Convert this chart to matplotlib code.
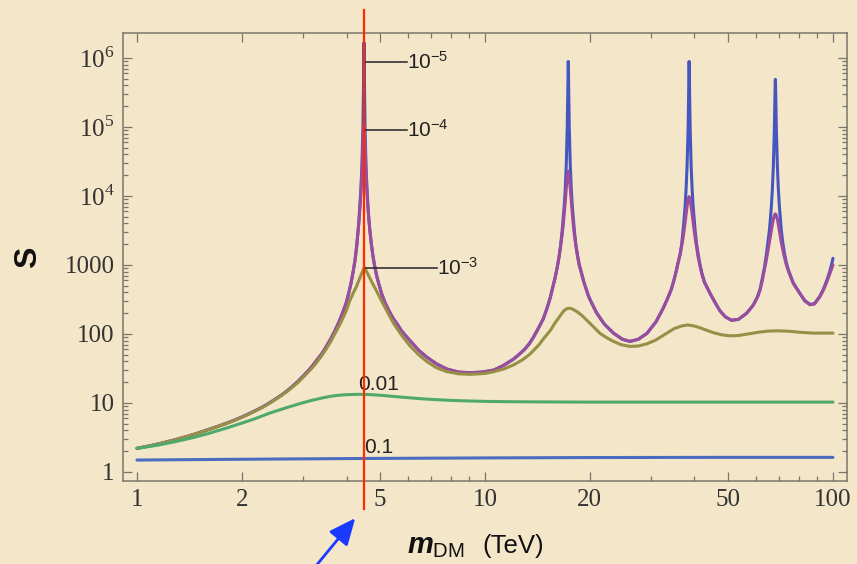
import matplotlib.pyplot as plt
from matplotlib.patches import FancyArrowPatch
from matplotlib.transforms import offset_copy

plt.rcParams['mathtext.fontset'] = 'custom'
plt.rcParams['mathtext.rm'] = 'Liberation Serif'
plt.rcParams['mathtext.it'] = 'Liberation Sans:italic:bold'
plt.rcParams['mathtext.sf'] = 'Liberation Sans'
plt.rcParams['mathtext.bf'] = 'Liberation Sans:bold'

# Sommerfeld factor S vs dark matter mass (TeV), one curve per relative velocity
mass_v1e5 = [1.0, 1.1, 1.2, 1.3, 1.4, 1.5, 1.6, 1.7, 1.8, 1.9,
             2.0, 2.1, 2.2, 2.3, 2.4, 2.5, 2.6, 2.7, 2.8, 2.9,
             3.0, 3.1, 3.2, 3.3, 3.4, 3.5, 3.6, 3.7, 3.8, 3.88,
             3.99, 4.06, 4.12, 4.18, 4.23, 4.28, 4.31, 4.34, 4.37, 4.40,
             4.43, 4.46, 4.475, 4.4825, 4.49, 4.4975, 4.505, 4.52, 4.55, 4.58,
             4.61, 4.64, 4.67, 4.71, 4.76, 4.82, 4.89, 4.97, 5.05, 5.16,
             5.29, 5.44, 5.6, 5.75, 5.92, 6.09, 6.45, 6.81, 7.25, 7.78,
             8.40, 9.06, 9.80, 10.6, 11.3, 12.06, 12.5, 13.0, 13.4, 13.75,
             14.2, 14.7, 15.05, 15.4, 15.91, 16.15, 16.34, 16.5, 16.67, 16.78,
             16.89, 17.01, 17.12, 17.236, 17.293, 17.321, 17.35, 17.379, 17.407, 17.465,
             17.58, 17.70, 17.82, 17.94, 18.06, 18.24, 18.42, 18.65, 18.91, 19.2,
             19.55, 19.85, 20.2, 20.9, 22.0, 23.4, 24.8, 26.1, 27.6, 29.2,
             31.0, 32.5, 33.5, 34.29, 34.85, 35.43, 35.9, 36.37, 36.75, 37.10,
             37.35, 37.59, 37.84, 38.09, 38.35, 38.473, 38.536, 38.6, 38.664, 38.728,
             38.86, 39.11, 39.37, 39.63, 39.9, 40.16, 40.55, 40.97, 41.5, 42.06,
             42.7, 43.46, 44.3, 45.5, 47.3, 49.0, 51.1, 53.5, 56.5, 59.0,
             60.66, 61.7, 62.69, 63.5, 64.35, 65.2, 65.64, 66.08, 66.52, 66.96,
             67.40, 67.85, 68.075, 68.187, 68.3, 68.413, 68.526, 68.75, 69.21, 69.67,
             70.13, 70.6, 71.06, 71.75, 72.49, 73.4, 74.42, 76.9, 80.3, 83.0,
             85.9, 88.5, 91.7, 94.0, 95.9, 97.7, 99.1, 100.0]
s_v1e5 = [2.2, 2.42, 2.68, 2.97, 3.3, 3.68, 4.1, 4.55, 5.05, 5.6,
          6.25, 7.0, 7.85, 8.8, 10.0, 11.4, 13.0, 15.0, 17.5, 20.5,
          24.5, 29, 35, 43, 52, 66, 84, 110, 147, 190,
          280, 390, 540, 800, 1150, 1900, 2800, 4150, 7150, 12700,
          28000, 107000, 360000, 870000, 1670000, 870000, 360000, 107000, 28000, 12700,
          7150, 4500, 3150, 2100, 1400, 960, 680, 500, 380, 285,
          220, 170, 138, 112, 94, 80, 58, 46, 37, 31,
          28, 27.5, 28, 30, 35, 43, 50, 60, 72, 88,
          118, 165, 230, 335, 660, 960, 1360, 1950, 3200, 4700,
          7150, 12700, 28000, 100000, 300000, 600000, 890000, 600000, 300000, 100000,
          28000, 12700, 7150, 4700, 3200, 2000, 1450, 1020, 790, 585,
          440, 350, 290, 205, 140, 103, 84, 78, 84, 102,
          150, 235, 330, 440, 585, 810, 1100, 1450, 2000, 3200,
          4700, 7150, 12700, 28000, 100000, 300000, 600000, 890000, 600000, 300000,
          100000, 28000, 12700, 7150, 4700, 3200, 2000, 1450, 1000, 740,
          570, 475, 392, 305, 218, 178, 158, 163, 200, 262,
          345, 440, 660, 900, 1410, 2400, 3150, 4600, 7100, 12500,
          27200, 93000, 240000, 387000, 490000, 387000, 240000, 93000, 27200, 12500,
          7100, 4600, 3150, 2100, 1500, 1100, 850, 550, 390, 305,
          268, 276, 352, 455, 590, 780, 1020, 1250]

mass_v1e4 = [1.0, 1.1, 1.2, 1.3, 1.4, 1.5, 1.6, 1.7, 1.8, 1.9,
             2.0, 2.1, 2.2, 2.3, 2.4, 2.5, 2.6, 2.7, 2.8, 2.9,
             3.0, 3.1, 3.2, 3.3, 3.4, 3.5, 3.6, 3.7, 3.8, 3.88,
             3.99, 4.06, 4.12, 4.18, 4.23, 4.28, 4.31, 4.34, 4.37, 4.40,
             4.43, 4.46, 4.475, 4.49, 4.505, 4.52, 4.55, 4.58, 4.61, 4.64,
             4.67, 4.71, 4.76, 4.82, 4.89, 4.97, 5.05, 5.16, 5.29, 5.44,
             5.6, 5.75, 5.92, 6.09, 6.45, 6.81, 7.25, 7.78, 8.40, 9.06,
             9.80, 10.6, 11.3, 12.06, 12.5, 13.0, 13.4, 13.75, 14.2, 14.7,
             15.05, 15.4, 15.91, 16.15, 16.34, 16.5, 16.67, 16.78, 16.89, 17.01,
             17.12, 17.236, 17.35, 17.465, 17.58, 17.70, 17.82, 17.94, 18.06, 18.24,
             18.42, 18.65, 18.91, 19.2, 19.55, 19.85, 20.2, 20.9, 22.0, 23.4,
             24.8, 26.1, 27.6, 29.2, 31.0, 32.5, 33.5, 34.29, 34.85, 35.43,
             35.9, 36.37, 36.75, 37.10, 37.35, 37.59, 37.84, 38.09, 38.35, 38.6,
             38.86, 39.11, 39.37, 39.63, 39.9, 40.16, 40.55, 40.97, 41.5, 42.06,
             42.7, 43.46, 44.3, 45.5, 47.3, 49.0, 51.1, 53.5, 56.5, 59.0,
             60.66, 61.7, 62.69, 63.5, 64.35, 65.2, 65.64, 66.08, 66.52, 66.96,
             67.40, 67.85, 68.3, 68.75, 69.21, 69.67, 70.13, 70.6, 71.06, 71.75,
             72.49, 73.4, 74.42, 76.9, 80.3, 83.0, 85.9, 88.5, 91.7, 94.0,
             95.9, 97.7, 99.1, 100.0]
s_v1e4 = [2.2, 2.42, 2.68, 2.97, 3.3, 3.68, 4.1, 4.55, 5.05, 5.6,
          6.25, 7.0, 7.85, 8.8, 10.0, 11.4, 13.0, 15.0, 17.5, 20.5,
          24.5, 29, 35, 43, 52, 66, 84, 110, 147, 190,
          280, 390, 540, 800, 1150, 1900, 2800, 4100, 6500, 11000,
          23000, 56000, 89000, 110000, 89000, 56000, 23000, 11500, 6700, 4400,
          3100, 2100, 1400, 960, 680, 500, 380, 285, 220, 170,
          138, 112, 94, 80, 58, 46, 37, 31, 28, 27.5,
          28, 30, 35, 43, 50, 60, 72, 88, 118, 165,
          230, 335, 660, 950, 1340, 1900, 2800, 3800, 5500, 8200,
          12800, 19000, 23000, 19000, 12800, 8200, 5500, 3800, 2800, 1900,
          1400, 1000, 780, 580, 440, 350, 290, 205, 140, 103,
          84, 78, 84, 102, 150, 235, 330, 440, 580, 800,
          1080, 1400, 1900, 2500, 3200, 4150, 5500, 7100, 8950, 9800,
          8950, 7100, 5500, 4150, 3200, 2500, 1800, 1300, 960, 720,
          560, 470, 390, 305, 218, 178, 158, 163, 200, 262,
          340, 430, 600, 850, 1180, 1750, 2100, 2600, 3130, 3850,
          4600, 5250, 5500, 5250, 4600, 3850, 3130, 2600, 2100, 1650,
          1300, 1020, 820, 540, 385, 300, 265, 272, 347, 440,
          560, 720, 880, 1000]

mass_v1e3 = [1.0, 1.1, 1.2, 1.3, 1.4, 1.5, 1.6, 1.7, 1.8, 1.9,
             2.0, 2.1, 2.2, 2.3, 2.4, 2.5, 2.6, 2.7, 2.8, 2.9,
             3.0, 3.1, 3.2, 3.3, 3.4, 3.5, 3.6, 3.7, 3.8, 3.88,
             3.99, 4.09, 4.19, 4.27, 4.38, 4.50, 4.62, 4.74, 4.87, 5.03,
             5.20, 5.45, 5.75, 6.09, 6.45, 6.80, 7.25, 7.76, 8.40, 9.06,
             10.0, 10.6, 11.3, 12.06, 12.8, 13.4, 13.8, 14.3, 14.8, 15.4,
             15.9, 16.4, 16.8, 17.15, 17.5, 17.9, 18.4, 19.0, 19.7, 20.5,
             21.4, 22.4, 23.4, 24.6, 26.1, 27.6, 29.2, 31.0, 33.0, 35.0,
             36.8, 38.2, 39.8, 41.5, 43.4, 45.5, 48.0, 50.6, 53.5, 57.0,
             61.0, 65.0, 69.0, 74.0, 80.0, 87.7, 100.0]
s_v1e3 = [2.2, 2.42, 2.68, 2.97, 3.3, 3.67, 4.08, 4.52, 5.0, 5.55,
          6.2, 6.9, 7.75, 8.7, 9.85, 11.2, 12.8, 14.7, 17.0, 19.8,
          23.5, 27.8, 33, 40, 49, 61, 77, 100, 128, 158,
          215, 305, 400, 485, 670, 930, 718, 553, 428, 310,
          225, 145, 97, 67, 50, 40, 32.5, 28.5, 26.5, 26,
          26.8, 28.4, 31, 35.5, 42, 50, 58, 70, 88, 112,
          145, 180, 213, 232, 237, 228, 210, 185, 155, 127,
          102, 88, 78, 70, 66, 67, 72, 82, 100, 120,
          131, 135, 131, 123, 113, 104, 97, 94, 95, 100,
          106, 110, 111, 110, 106, 103, 103]

mass_v1e2 = [1.0, 1.15, 1.3, 1.45, 1.6, 1.8, 2.0, 2.2, 2.4, 2.6, 2.8, 3.0,
             3.2, 3.4, 3.6, 3.8, 4.0, 4.3, 4.6, 5.0, 5.5, 6.0, 6.6, 7.2,
             8.0, 9.0, 10.0, 11.5, 13.0, 16.0, 20.0, 30.0, 50.0, 100.0]
s_v1e2 = [2.2, 2.45, 2.78, 3.15, 3.6, 4.3, 5.1, 6.0, 7.1, 8.1, 9.1, 10.1,
          11.0, 11.8, 12.5, 12.95, 13.2, 13.35, 13.3, 12.95, 12.4, 11.95, 11.5, 11.2,
          10.9, 10.7, 10.55, 10.45, 10.4, 10.35, 10.3, 10.3, 10.3, 10.3]

mass_v1e1 = [1.0, 2.0, 4.5, 10.0, 20.0, 50.0, 100.0]
s_v1e1 = [1.49, 1.53, 1.57, 1.60, 1.62, 1.63, 1.63]

x_ticks = [1, 2, 5, 10, 20, 50, 100]
x_tick_labels = ["1", "2", "5", "10", "20", "50", "100"]
x_minor = [3, 4, 6, 7, 8, 9, 30, 40, 60, 70, 80, 90]
y_ticks = [1, 10, 100, 1000, 1e4, 1e5, 1e6]
y_tick_labels = ["1", "10", "100", "1000", r"$10^{4}$", r"$10^{5}$", r"$10^{6}$"]
y_minor = [k * 10 ** e for e in range(6) for k in range(2, 10)]

m_marked = 4.48  # TeV, highlighted mass

bg = '#f4e6c9'
frame = '#7a766c'

fig = plt.figure(figsize=(8.57, 5.64), dpi=100, facecolor=bg)
ax = fig.add_axes([0.1435, 0.1472, 0.8448, 0.7943])
ax.set_facecolor('none')
ax.set_xscale('log')
ax.set_yscale('log')
ax.set_xlim(0.9115, 109.7)
ax.set_ylim(0.741, 2.30e6)

# drawing order: smallest velocity first, so the larger ones sit on top
curves = [
    (mass_v1e5, s_v1e5, '#4656c0'),
    (mass_v1e4, s_v1e4, '#9b4c9d'),
    (mass_v1e3, s_v1e3, '#978f45'),
    (mass_v1e2, s_v1e2, '#4fa96c'),
    (mass_v1e1, s_v1e1, '#4a6bbf'),
]
for m, s, c in curves:
    ax.plot(m, s, color=c, lw=2.2, solid_capstyle='round', zorder=2)

# velocity labels with leader lines
text_kw = dict(fontsize=15, color='#222222', ha='left', va='baseline')
shift = offset_copy(ax.transData, fig=fig, x=0, y=-7, units='dots')
for y_line, x_text, label in [(8.84e5, 5.96, r"$\mathsf{10^{-5}}$"),
                              (9.05e4, 5.95, r"$\mathsf{10^{-4}}$"),
                              (914, 7.28, r"$\mathsf{10^{-3}}$")]:
    ax.plot([4.50, x_text], [y_line, y_line], color='#222222', lw=1.1, zorder=3)
    ax.text(x_text, y_line, label, transform=shift, **text_kw)
ax.text(4.32, 15.4, "0.01", family='Liberation Sans', **text_kw)
ax.text(4.50, 1.87, "0.1", family='Liberation Sans', **text_kw)

# marked mass, running past the frame
ax.plot([m_marked, m_marked], [0.291, 4.96e6], color='#ff2a00', lw=1.6,
        clip_on=False, zorder=6)

ax.set_xticks(x_ticks)
ax.set_xticklabels(x_tick_labels, family='Liberation Serif', fontsize=18, color='#333333')
ax.set_xticks(x_minor, minor=True)
ax.set_xticklabels([], minor=True)
ax.set_yticks(y_ticks)
ax.set_yticklabels(y_tick_labels, family='Liberation Serif', fontsize=18, color='#333333')
ax.set_yticks(y_minor, minor=True)
ax.set_yticklabels([], minor=True)

ax.tick_params(which='both', direction='in', top=True, right=True, color=frame, width=0.9)
ax.tick_params(which='major', length=6.5, pad=6)
ax.tick_params(which='minor', length=3.3)
for sp in ax.spines.values():
    sp.set_color(frame)
    sp.set_linewidth(1.1)

fig.text(0.033, 0.543, "S", rotation=90, fontsize=23, fontweight='bold',
         family='Liberation Sans', ha='center', va='center', color='#111111')
fig.text(407 / 857, 1 - 553 / 564, r"$\mathit{m}_{\mathsf{DM}}$", fontsize=21,
         ha='left', va='baseline', color='#111111')
fig.text(482 / 857, 1 - 553 / 564, "(TeV)", fontsize=18.5, family='Liberation Sans',
         ha='left', va='baseline', color='#111111')

arrow = FancyArrowPatch((311 / 857, -0.014), (357 / 857, 1 - 516 / 564),
                        transform=fig.transFigure,
                        arrowstyle='-|>,head_length=0.9,head_width=0.4',
                        mutation_scale=18, lw=2, color='#1a3aff')
fig.add_artist(arrow)

fig.savefig('out.png', dpi=100, facecolor=bg)
